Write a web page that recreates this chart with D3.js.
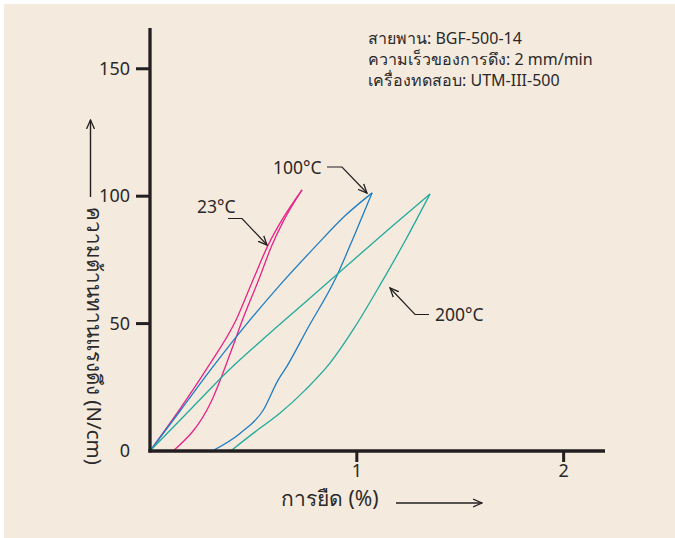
<!DOCTYPE html>
<html>
<head>
<meta charset="utf-8">
<script src="https://cdn.jsdelivr.net/npm/d3@7"></script>
<style>
  html, body { margin: 0; padding: 0; background: #ffffff; }
  svg { display: block; }
  text { font-family: "Noto Sans", "DejaVu Sans", sans-serif; fill: #2b2829; }
</style>
</head>
<body>
<svg id="chart" width="675" height="538"></svg>
<script>
// chart data (strain %, force N/cm)
var yTicks = [0, 50, 100, 150];
var xTicks = [1, 2];
var infoLines = ["สายพาน: BGF-500-14", "ความเร็วของการดึง: 2 mm/min", "เครื่องทดสอบ: UTM-III-500"];
var xTitle = "การยืด (%)";
var yTitle = "ความต้านทานแรงดึง (N/cm)";

var load23 = [[0,0],[0.145,16.5],[0.280,33.0],[0.416,51.4],[0.498,67.1],[0.571,80.8],[0.638,90.7],[0.735,102.5]];
var unload23 = [[0.112,0],[0.295,19.2],[0.394,39.6],[0.447,51.4],[0.525,67.1],[0.590,80.8],[0.648,90.7],[0.735,102.5]];
var load100 = [[0,0],[0.145,15.7],[0.300,32.6],[0.460,49.1],[0.629,65.2],[0.798,80.1],[0.943,92.3],[1.074,101.3]];
var unload100 = [[0.300,0],[0.435,6.9],[0.548,16.1],[0.620,27.9],[0.661,33.1],[0.758,47.5],[0.903,68.7],[0.991,85.2],[1.074,101.3]];
var load200 = [[0,0],[0.193,16.1],[0.387,32.2],[0.580,46.3],[0.774,60.0],[0.967,73.8],[1.161,87.5],[1.354,100.9]];
var unload200 = [[0.390,0],[0.508,7.5],[0.629,14.9],[0.750,23.9],[0.870,34.5],[0.991,48.7],[1.112,65.1],[1.233,82.4],[1.354,100.9]];

var curves = [
  {name: "23°C", color: "#e8228a", pts: load23},
  {name: "23°C", color: "#e8228a", pts: unload23},
  {name: "100°C", color: "#1f7cc4", pts: load100},
  {name: "100°C", color: "#1f7cc4", pts: unload100},
  {name: "200°C", color: "#22aa9e", pts: load200},
  {name: "200°C", color: "#22aa9e", pts: unload200}
];

function main(){
  var svg = d3.select("#chart");
  // beige panel
  svg.append("rect").attr("x", 4).attr("y", 4).attr("width", 671).attr("height", 534).attr("fill", "#f4ebde");

  var xScale = d3.scaleLinear().domain([0, 2.2]).range([150, 605]);
  var yScale = d3.scaleLinear().domain([0, 166]).range([451, 28]);

  // arrow marker (open V)
  svg.append("defs").append("marker")
      .attr("id", "arr").attr("viewBox", "0 0 10 10")
      .attr("refX", 9).attr("refY", 5)
      .attr("markerWidth", 10).attr("markerHeight", 10)
      .attr("markerUnits", "userSpaceOnUse")
      .attr("orient", "auto")
    .append("path").attr("d", "M0,1 L9,5 L0,9")
      .attr("fill", "none").attr("stroke", "#231f20").attr("stroke-width", 1.3);

  // curves
  var line = d3.line()
      .x(function(d){ return xScale(d[0]); })
      .y(function(d){ return yScale(d[1]); })
      .curve(d3.curveMonotoneX);
  svg.selectAll(".curve").data(curves).enter().append("path")
      .attr("class", "curve")
      .attr("d", function(d){ return line(d.pts); })
      .attr("fill", "none")
      .attr("stroke", function(d){ return d.color; })
      .attr("stroke-width", 1.3);

  // axes
  var axisColor = "#231f20";
  svg.append("line").attr("x1", 150).attr("x2", 150).attr("y1", yScale(166)).attr("y2", 452.5)
      .attr("stroke", axisColor).attr("stroke-width", 3.3);
  svg.append("line").attr("x1", 148.4).attr("x2", xScale(2.2)).attr("y1", 451).attr("y2", 451)
      .attr("stroke", axisColor).attr("stroke-width", 3.3);

  // y ticks
  svg.selectAll(".yt").data(yTicks.filter(function(d){ return d > 0; })).enter().append("line")
      .attr("x1", 136).attr("x2", 150)
      .attr("y1", function(d){ return yScale(d); }).attr("y2", function(d){ return yScale(d); })
      .attr("stroke", axisColor).attr("stroke-width", 3);
  svg.selectAll(".yl").data(yTicks).enter().append("text")
      .attr("x", 130).attr("y", function(d){ return yScale(d); })
      .attr("dy", "0.35em").attr("text-anchor", "end")
      .attr("font-size", "18px")
      .text(function(d){ return d; });

  // x ticks
  svg.selectAll(".xt").data(xTicks).enter().append("line")
      .attr("x1", function(d){ return xScale(d); }).attr("x2", function(d){ return xScale(d); })
      .attr("y1", 451).attr("y2", 462)
      .attr("stroke", axisColor).attr("stroke-width", 3);
  svg.selectAll(".xl").data(xTicks).enter().append("text")
      .attr("x", function(d){ return xScale(d); }).attr("y", 477)
      .attr("text-anchor", "middle").attr("font-size", "18px")
      .text(function(d){ return d; });

  // x title with arrow
  svg.append("text").attr("x", 281).attr("y", 506).attr("font-size", "21px").text(xTitle);
  svg.append("line").attr("x1", 396).attr("x2", 482).attr("y1", 503).attr("y2", 503)
      .attr("stroke", axisColor).attr("stroke-width", 1.4).attr("marker-end", "url(#arr)");

  // y title (rotated) with arrow
  svg.append("text").attr("transform", "translate(87,207) rotate(90)")
      .attr("font-size", "20.5px").text(yTitle);
  svg.append("line").attr("x1", 90.5).attr("x2", 90.5).attr("y1", 197).attr("y2", 120)
      .attr("stroke", axisColor).attr("stroke-width", 1.4).attr("marker-end", "url(#arr)");

  // info block
  svg.selectAll(".info").data(infoLines).enter().append("text")
      .attr("x", 368).attr("y", function(d, i){ return 44 + i * 21; })
      .attr("font-size", "16px")
      .text(function(d){ return d; });

  // temperature labels with leader arrows
  var labels = [
    {t: "23°C", x: 197, y: 213, path: [[228, 218.5], [242, 218.5], [267, 245]]},
    {t: "100°C", x: 273, y: 174, path: [[327, 167], [342, 167], [367, 193]]},
    {t: "200°C", x: 435, y: 321, path: [[429, 314.5], [415, 314.5], [390, 288]]}
  ];
  var lead = d3.line();
  labels.forEach(function(l){
    svg.append("text").attr("x", l.x).attr("y", l.y).attr("font-size", "17.5px").text(l.t);
    svg.append("path").attr("d", lead(l.path)).attr("fill", "none")
        .attr("stroke", axisColor).attr("stroke-width", 1.2).attr("marker-end", "url(#arr)");
  });
}
main();
</script>
</body>
</html>
